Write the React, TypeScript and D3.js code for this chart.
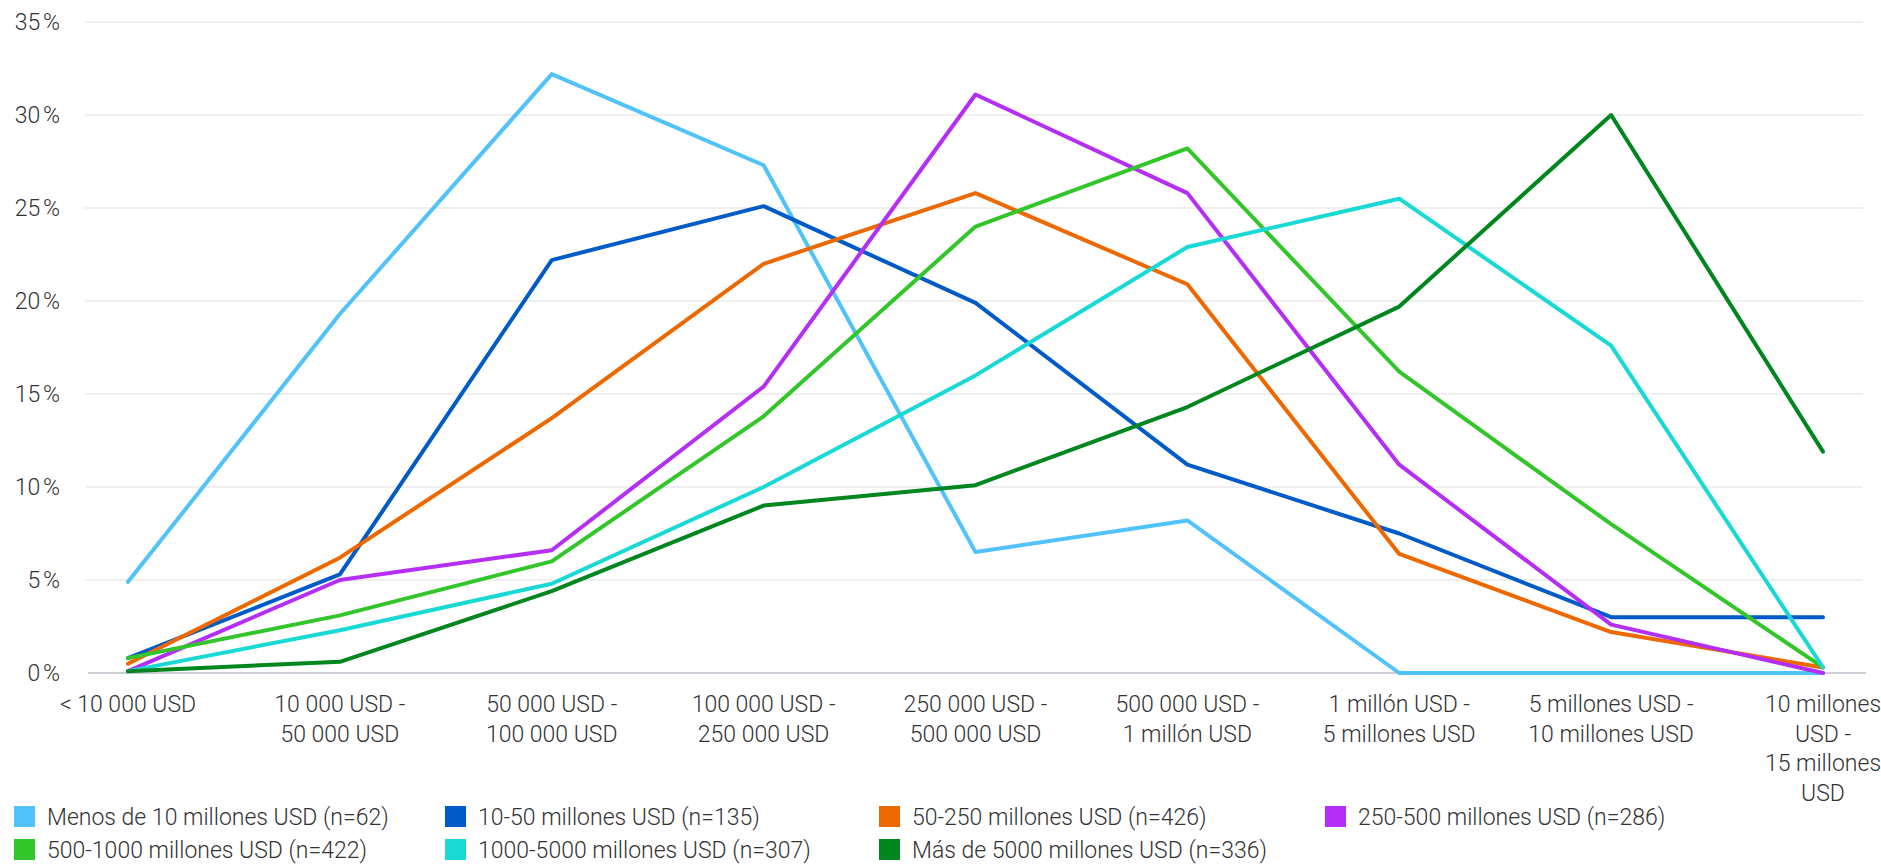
import React from "react";
import * as d3 from "d3";

const categories: string[] = [
  "< 10 000 USD",
  "10 000 USD -\n50 000 USD",
  "50 000 USD -\n100 000 USD",
  "100 000 USD -\n250 000 USD",
  "250 000 USD -\n500 000 USD",
  "500 000 USD -\n1 millón USD",
  "1 millón USD -\n5 millones USD",
  "5 millones USD -\n10 millones USD",
  "10 millones\nUSD -\n15 millones\nUSD",
];

const seriesNames: string[] = [
  "Menos de 10 millones USD (n=62)",
  "10-50 millones USD (n=135)",
  "50-250 millones USD (n=426)",
  "250-500 millones USD (n=286)",
  "500-1000 millones USD (n=422)",
  "1000-5000 millones USD (n=307)",
  "Más de 5000 millones USD (n=336)",
];

const seriesColors: string[] = [
  "#52C3FA",
  "#005BC8",
  "#EE6800",
  "#B52EF5",
  "#33C62A",
  "#18D9D3",
  "#00861E",
];

const menos10: number[] = [4.9, 19.3, 32.2, 27.3, 6.5, 8.2, 0, 0, 0];
const m10_50: number[] = [0.8, 5.3, 22.2, 25.1, 19.9, 11.2, 7.5, 3.0, 3.0];
const m50_250: number[] = [0.5, 6.2, 13.7, 22.0, 25.8, 20.9, 6.4, 2.2, 0.3];
const m250_500: number[] = [0.1, 5.0, 6.6, 15.4, 31.1, 25.8, 11.2, 2.6, 0];
const m500_1000: number[] = [0.8, 3.1, 6.0, 13.8, 24.0, 28.2, 16.2, 8.0, 0.3];
const m1000_5000: number[] = [0.1, 2.3, 4.8, 10.0, 16.0, 22.9, 25.5, 17.6, 0.3];
const mas5000: number[] = [0.1, 0.6, 4.4, 9.0, 10.1, 14.3, 19.7, 30.0, 11.9];

const seriesValues: number[][] = [menos10, m10_50, m50_250, m250_500, m500_1000, m1000_5000, mas5000];

const yTicks: number[] = [0, 5, 10, 15, 20, 25, 30, 35];

const W = 1881;
const H = 866;
const FONT = "Roboto, 'Noto Sans', sans-serif";
const TEXT = "#333333";
const FS = 23;
const FW = 300;

export default function App() {
  const x = d3.scalePoint<number>().domain(d3.range(categories.length)).range([128, 1823]);
  const y = d3.scaleLinear().domain([0, 35]).range([673, 22]);
  const line = d3
    .line<number>()
    .x((_, i) => x(i) as number)
    .y((d) => y(d));

  const legendCols = [14, 445, 879, 1325];
  const legendRows = [817, 850];

  return (
    <div style={{ position: "fixed", left: 0, top: 0 }}>
      <svg width={W} height={H} style={{ display: "block", background: "#fff" }}>
        {yTicks.map((t) =>
          t === 0 ? null : (
            <line key={"g" + t} x1={85} x2={1863} y1={y(t)} y2={y(t)} stroke="#efefef" strokeWidth={2} />
          )
        )}
        <line x1={88} x2={1866} y1={y(0)} y2={y(0)} stroke="#ccd0d6" strokeWidth={2} />
        {yTicks.map((t) => (
          <text
            key={"yl" + t}
            x={60}
            y={y(t)}
            dy="0.35em"
            textAnchor="end"
            fontFamily={FONT}
            fontSize={FS}
            fontWeight={FW}
            fill={TEXT}
          >
            {`${t}\u202F%`}
          </text>
        ))}
        {categories.map((c, i) =>
          c.split("\n").map((ln, j) => (
            <text
              key={"xl" + i + "_" + j}
              x={x(i)}
              y={704 + j * 29.5}
              dy="0.35em"
              textAnchor="middle"
              fontFamily={FONT}
              fontSize={FS}
              fontWeight={FW}
              fill={TEXT}
            >
              {ln}
            </text>
          ))
        )}
        {seriesValues.map((vals, si) => (
          <path
            key={"s" + si}
            d={line(vals) || ""}
            fill="none"
            stroke={seriesColors[si]}
            strokeWidth={4}
            strokeLinejoin="round"
            strokeLinecap="round"
          />
        ))}
        {seriesNames.map((name, i) => {
          const col = i < 4 ? i : i - 4;
          const row = i < 4 ? 0 : 1;
          const lx = legendCols[col];
          const ly = legendRows[row];
          return (
            <g key={"lg" + i}>
              <rect x={lx} y={ly - 11} width={21} height={21} fill={seriesColors[i]} />
              <text
                x={lx + 33}
                y={ly}
                dy="0.35em"
                fontFamily={FONT}
                fontSize={FS}
                fontWeight={FW}
                fill={TEXT}
              >
                {name}
              </text>
            </g>
          );
        })}
      </svg>
    </div>
  );
}
